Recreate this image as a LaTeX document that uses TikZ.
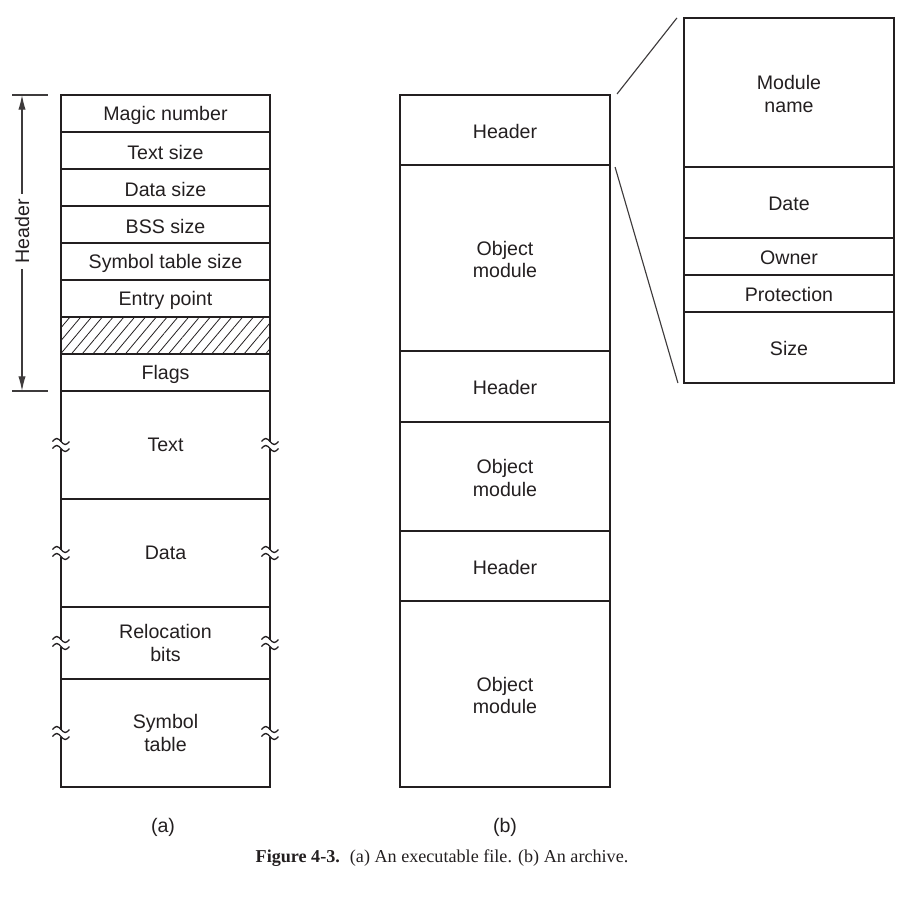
\documentclass[tikz,border=0pt]{standalone}
\usepackage{fontspec}
\setmainfont{Liberation Sans}
\newfontfamily\capserif{Liberation Serif}
\usetikzlibrary{fit,arrows.meta,patterns.meta}
\definecolor{ink}{HTML}{231F20}
\definecolor{thinink}{HTML}{3E3B3C}
\newcommand\lblfont{\fontsize{14.7}{17}\selectfont}
\tikzset{
  cell/.style={draw=ink, line width=1.6pt, inner sep=0pt, align=center, font=\lblfont, text=ink},
  opencell/.style={inner sep=0pt, align=center, font=\lblfont, text=ink},
  edge/.style={draw=ink, line width=1.6pt},
  brkmark/.style={draw=ink, line width=1pt},
  thinline/.style={draw=thinink, line width=0.85pt},
  hatched/.style={pattern={Lines[angle=50,distance=6.2pt,line width=0.6pt]}, pattern color=ink},
}
% a box spanning two corners (in pixel units)
\newcommand\cellbox[6][cell]{\node[#1, fit={(#3,#4) (#5,#6)}] (#2) {};}
% wavy break in a vertical side at (x, m)
\newcommand\breakmark[2]{%
  \draw[brkmark] (#1-8.5,#2-3.5) sin (#1-4.25,#2-6.5) cos (#1,#2-3.5) sin (#1+4.25,#2-0.5) cos (#1+8.5,#2-3.5);
  \draw[brkmark] (#1-8.5,#2+3.5) sin (#1-4.25,#2+0.5) cos (#1,#2+3.5) sin (#1+4.25,#2+6.5) cos (#1+8.5,#2+3.5);}
\begin{document}
\begin{tikzpicture}[x=0.75pt,y=-0.75pt]
\useasboundingbox (0,0) rectangle (912,902);

% ---------- (a) executable file ----------
\cellbox{magic}{61}{95}{270}{132}
\cellbox{tsize}{61}{132}{270}{169}
\cellbox{dsize}{61}{169}{270}{206}
\cellbox{bsize}{61}{206}{270}{243}
\cellbox{ssize}{61}{243}{270}{280}
\cellbox{entry}{61}{280}{270}{317}
\cellbox[cell,hatched]{pad}{61}{317}{270}{354}
\cellbox{flags}{61}{354}{270}{391}
\node[opencell] at ([yshift=-1.5]magic) {Magic number};
\node[opencell] at ([yshift=-1.5]tsize) {Text size};
\node[opencell] at ([yshift=-1.5]dsize) {Data size};
\node[opencell] at ([yshift=-1.5]bsize) {BSS size};
\node[opencell] at ([yshift=-1.5]ssize) {Symbol table size};
\node[opencell] at ([yshift=-1.5]entry) {Entry point};
\node[opencell] at ([yshift=-1.5]flags) {Flags};

\cellbox[opencell]{text}{61}{391}{270}{499}
\cellbox[opencell]{data}{61}{499}{270}{607}
\cellbox[opencell]{reloc}{61}{607}{270}{679}
\cellbox[opencell]{symtab}{61}{679}{270}{787}
\node[opencell] (textl) at (text) {Text};
\node[opencell] (datal) at (data) {Data};
\node[opencell] (relocl) at (reloc) {Relocation\\bits};
\node[opencell] (symtabl) at (symtab) {Symbol\\table};
\draw[edge] (text.south west) -- (text.south east);
\draw[edge] (data.south west) -- (data.south east);
\draw[edge] (reloc.south west) -- (reloc.south east);
\draw[edge] (symtab.south west) -- (symtab.south east);

% broken side walls
\foreach \sx in {61,270}{
  \draw[edge] (\sx,391) -- (\sx,441.5);
  \draw[edge] (\sx,448.5) -- (\sx,549.5);
  \draw[edge] (\sx,556.5) -- (\sx,639.5);
  \draw[edge] (\sx,646.5) -- (\sx,729.5);
  \draw[edge] (\sx,736.5) -- (\sx,788);
  \foreach \m in {445,553,643,733}{\breakmark{\sx}{\m}}
}

% header dimension
\coordinate (htop) at (22,95);
\coordinate (hbot) at (22,391);
\draw[thinline] (12,95) -- (48,95);
\draw[thinline] (12,391) -- (48,391);
\draw[thinline, {Latex[length=11pt,width=5.5pt]}-{Latex[length=11pt,width=5.5pt]}] (htop) -- (hbot)
  node[pos=0.46, fill=white, rotate=90, inner sep=4pt, font=\lblfont, text=ink] (hlbl) {Header};

\node[font=\lblfont, text=ink] (capa) at (163,827) {(a)};

% ---------- (b) archive ----------
\cellbox{hb1}{400}{95}{610}{165}
\cellbox{ob1}{400}{165}{610}{351}
\cellbox{hb2}{400}{351}{610}{422}
\cellbox{ob2}{400}{422}{610}{531}
\cellbox{hb3}{400}{531}{610}{601}
\cellbox{ob3}{400}{601}{610}{787}
\node[opencell] at ([yshift=-1]hb1) {Header};
\node[opencell] at ([yshift=-1]ob1) {Object\\module};
\node[opencell] at ([yshift=-1]hb2) {Header};
\node[opencell] at ([yshift=-1]ob2) {Object\\module};
\node[opencell] at ([yshift=-1]hb3) {Header};
\node[opencell] at ([yshift=-1]ob3) {Object\\module};

\node[font=\lblfont, text=ink] (capb) at (505,827) {(b)};

% ---------- module header detail ----------
\cellbox{mname}{684}{18}{894}{167}
\cellbox{mdate}{684}{167}{894}{238}
\cellbox{mowner}{684}{238}{894}{275}
\cellbox{mprot}{684}{275}{894}{312}
\cellbox{msize}{684}{312}{894}{383}
\node[opencell] at ([yshift=-1]mname) {Module\\name};
\node[opencell] at ([yshift=-1]mdate) {Date};
\node[opencell] at ([yshift=-1]mowner) {Owner};
\node[opencell] at ([yshift=-1]mprot) {Protection};
\node[opencell] at ([yshift=-1]msize) {Size};

\draw[thinline] ([shift={(6,0)}]hb1.north east) -- ([shift={(-6,1)}]mname.north west);
\draw[thinline] ([shift={(4,1)}]hb1.south east) -- ([shift={(-5,-1)}]msize.south west);

% caption
\node[font=\capserif\fontsize{13.6}{16}\selectfont, text=ink] (caption) at (442,858)
  {\textbf{Figure 4-3.}\hspace{0.55em}(a) An executable file. (b) An archive.};
\end{tikzpicture}
\end{document}
